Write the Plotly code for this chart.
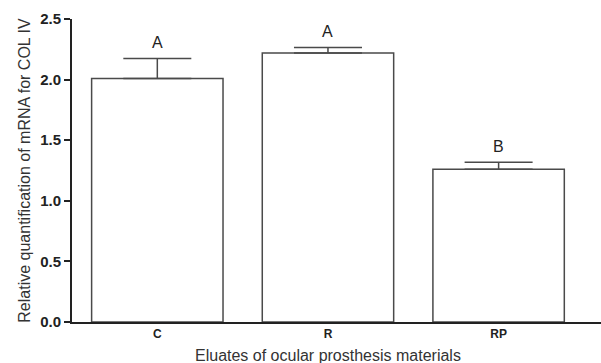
import plotly.graph_objects as go

categories = ["C", "R", "RP"]
values = [2.01, 2.22, 1.26]
errors = [0.165, 0.045, 0.058]
letters = ["A", "A", "B"]
y_ticks = [0.0, 0.5, 1.0, 1.5, 2.0, 2.5]
y_tick_labels = ["0.0", "0.5", "1.0", "1.5", "2.0", "2.5"]

FONT = "Liberation Sans, Arial, Helvetica, sans-serif"

fig = go.Figure()
fig.add_trace(go.Bar(
    x=categories, y=values, width=0.77,
    marker=dict(color="white", line=dict(color="#4a4a4a", width=1.5)),
    error_y=dict(type="data", array=errors, visible=True, symmetric=False,
                 arrayminus=[0, 0, 0], color="#4a4a4a", thickness=1.5, width=34),
    showlegend=False,
))

for c, v, e, t in zip(categories, values, errors, letters):
    fig.add_annotation(x=c, y=v + e, text=t, showarrow=False, xref="x", yref="y",
                       yanchor="middle", yshift=16,
                       font=dict(family=FONT, size=16, color="#222"))

fig.add_annotation(x=1, y=0, xref="x", yref="paper", yanchor="middle", yshift=-33,
                   text="Eluates of ocular prosthesis materials", showarrow=False,
                   font=dict(family=FONT, size=16, color="#333"))

fig.update_layout(
    width=601, height=363,
    margin=dict(l=72, r=0, t=19, b=41),
    plot_bgcolor="white", paper_bgcolor="white",
    font=dict(family=FONT, color="#222"),
)
fig.update_xaxes(
    range=[-0.5, 2.6], showline=True, linecolor="#222", linewidth=2,
    ticks="", showgrid=False, zeroline=False,
    tickfont=dict(family=FONT, size=12, color="#222", weight="bold"),
)
fig.update_yaxes(
    range=[0, 2.5], tickvals=y_ticks, ticktext=y_tick_labels,
    showline=True, linecolor="#222", linewidth=2,
    ticks="outside", ticklen=6, tickwidth=2, tickcolor="#222",
    showgrid=False, zeroline=False,
    tickfont=dict(family=FONT, size=15, color="#222", weight="bold"),
    title=dict(text="Relative quantification of mRNA for COL IV", standoff=6,
               font=dict(family=FONT, size=16, color="#333")),
)

fig.write_html("out.html", config={"displayModeBar": False},
               post_script="document.body.style.margin='0';")
